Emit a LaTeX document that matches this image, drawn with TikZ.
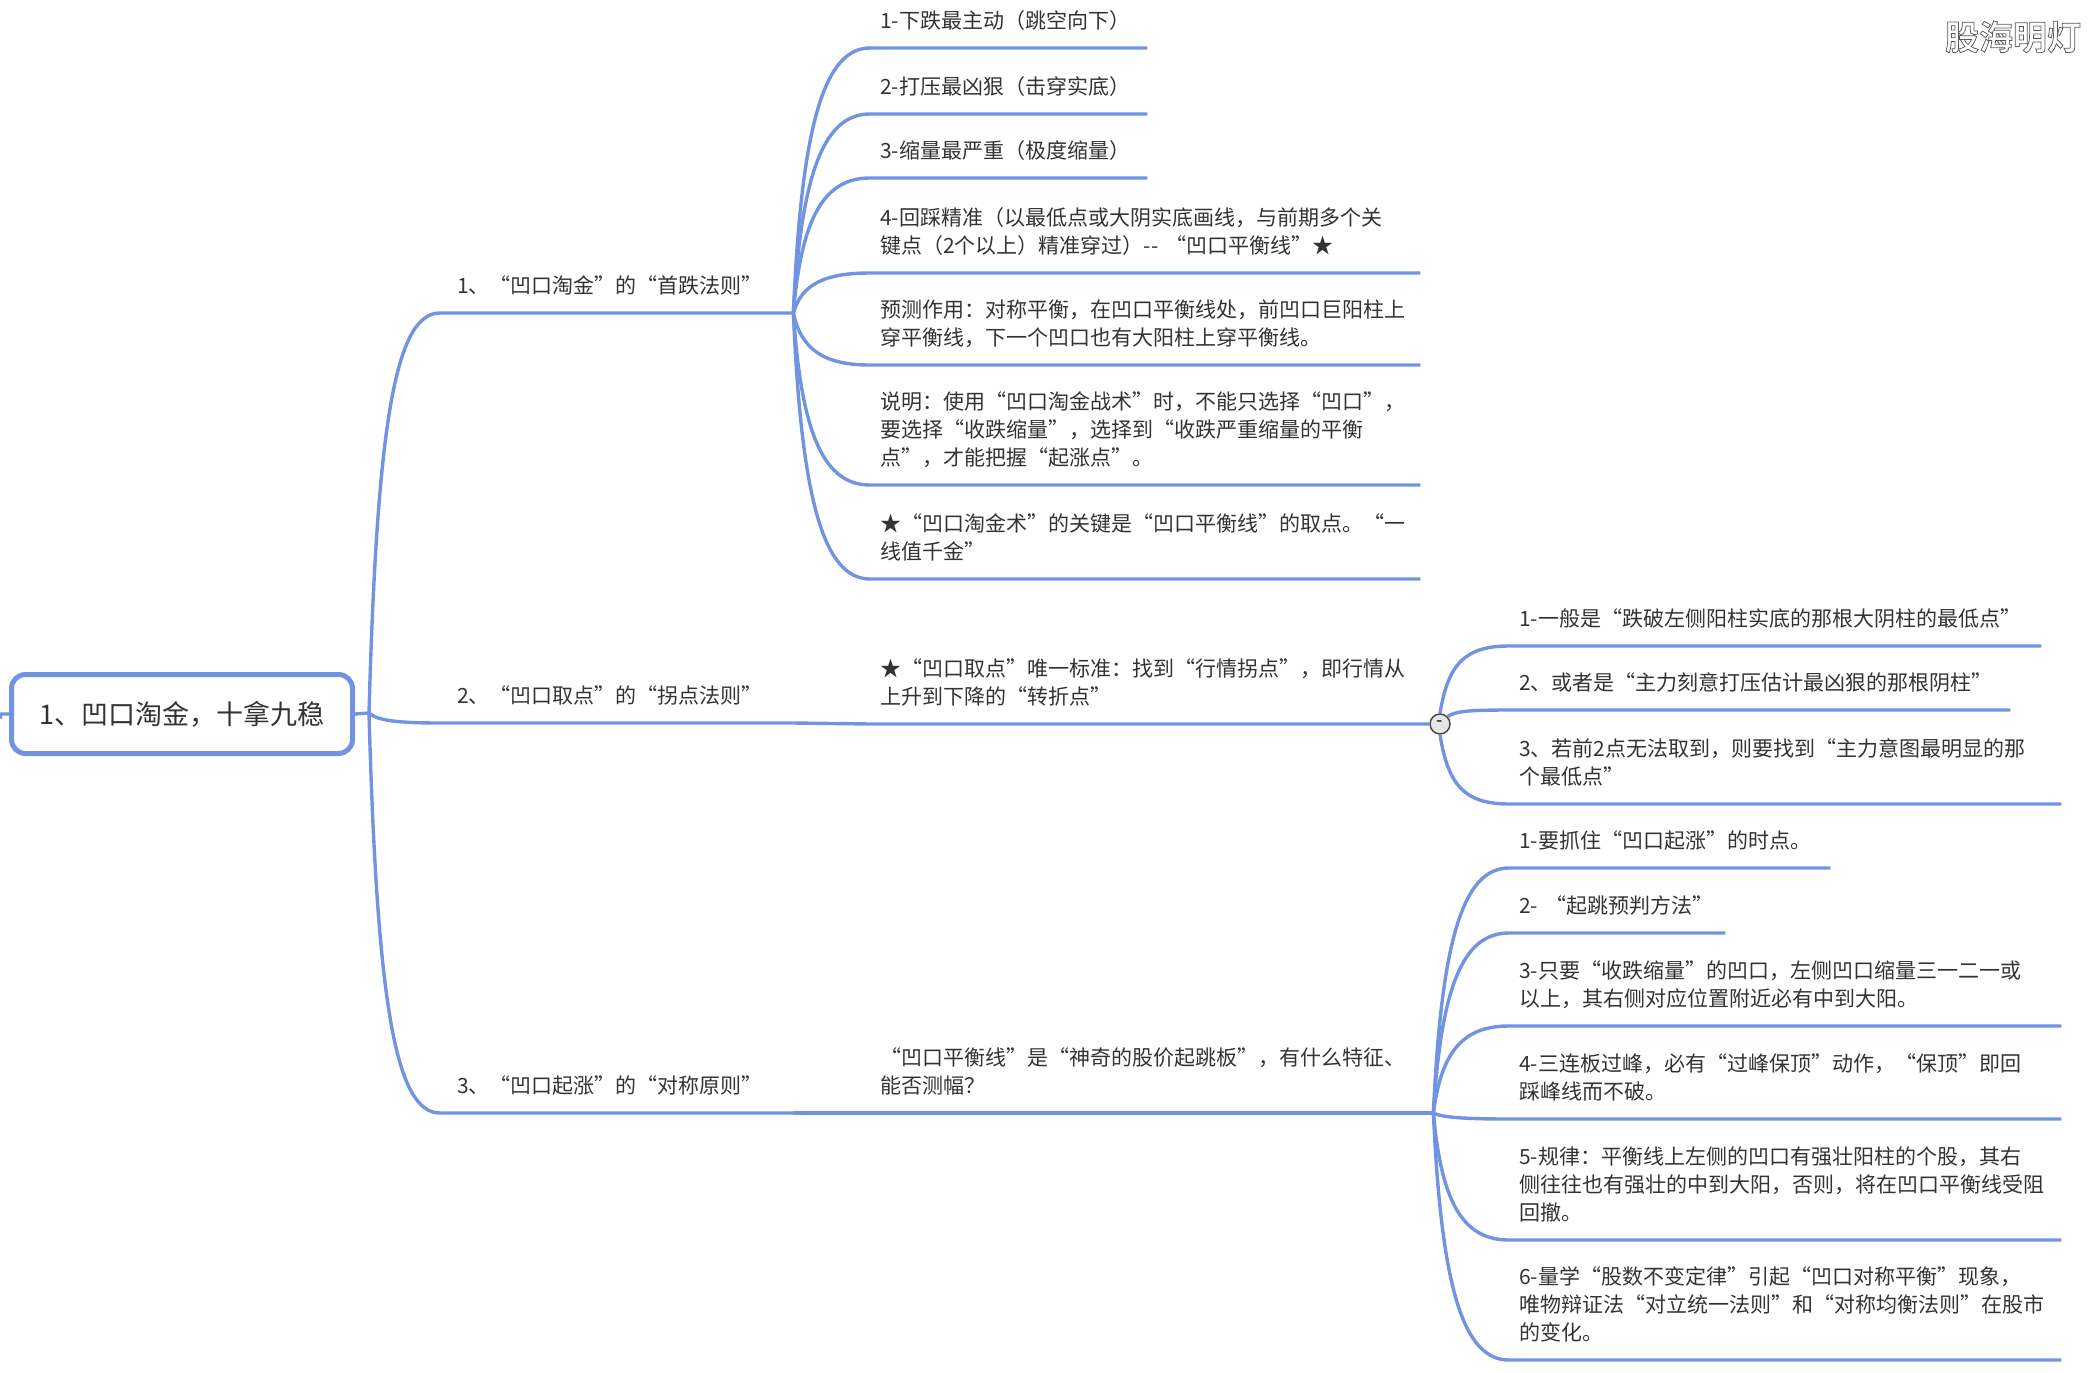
\documentclass[tikz,border=0pt]{standalone}
\usepackage{fontspec}
\usepackage{tikz}
\usetikzlibrary{calc}
\setmainfont{Noto Sans CJK SC}
\newfontfamily\markfont[FakeBold=2.2]{Noto Sans CJK SC Bold}
\newcommand\fwcomma{\char"FF0C\relax}
\newcommand\fwcolon{\char"FF1A\relax}
\newcommand\fwlp{\char"FF08\relax}
\newcommand\fwrp{\char"FF09\relax}
\newcommand\fwqm{\char"FF1F\relax}
\definecolor{limbblue}{RGB}{112,148,226}
\definecolor{inkgrey}{RGB}{51,51,51}
\begin{document}
\begin{tikzpicture}[x=1pt,y=-1pt,
  limb/.style={draw=limbblue,line width=3.4pt,line join=round,to path={let \p1=(\tikztostart),\p2=(\tikztotarget) in
    .. controls (\x1+8pt,{\y1+0.72*(\y2-\y1)}) and (\x2-45pt,\y2) .. (\tikztotarget)}},
  txt/.style={anchor=south west,inner ysep=10.8pt,align=left,text=inkgrey,font=\fontsize{21}{28}\selectfont,execute at end node=\strut},
  leaf/.style={txt,inner xsep=10pt,text width=#1},
  cat/.style={txt,inner xsep=17pt,text width=319pt},
  root/.style={draw=limbblue,line width=5pt,rounded corners=14pt,fill=white,minimum width=341pt,minimum height=79pt,inner sep=0pt,text=inkgrey,font=\fontsize{27}{32}\selectfont},
  fold/.style={circle,draw=black!70,line width=1.5pt,fill=black!10,minimum size=20pt,inner sep=0pt,font=\fontsize{18}{18}\selectfont}]
\useasboundingbox (0,0) rectangle (2097,1373);
\node[root] (main) at (182,714) {1、凹口淘金\fwcomma{}十拿九稳};
\coordinate (stub) at (0,718);
\coordinate (hub) at (369,713);
\node[cat] (c1) at (440,313) {1、“凹口淘金”的“首跌法则”};
\node[cat] (c2) at (440,723) {2、“凹口取点”的“拐点法则”};
\node[cat] (c3) at (440,1113) {3、“凹口起涨”的“对称原则”};
\node[leaf=257pt] (a1) at (870,48) {1-下跌最主动\fwlp{}跳空向下\fwrp{}};
\node[leaf=257pt] (a2) at (870,114) {2-打压最凶狠\fwlp{}击穿实底\fwrp{}};
\node[leaf=257pt] (a3) at (870,178) {3-缩量最严重\fwlp{}极度缩量\fwrp{}};
\node[leaf=530pt] (a4) at (870,273) {4-回踩精准\fwlp{}以最低点或大阴实底画线\fwcomma{}与前期多个关\\键点\fwlp{}2个以上\fwrp{}精准穿过\fwrp{}-{}- “凹口平衡线”★};
\node[leaf=530pt] (a5) at (870,365) {预测作用\fwcolon{}对称平衡\fwcomma{}在凹口平衡线处\fwcomma{}前凹口巨阳柱上\\穿平衡线\fwcomma{}下一个凹口也有大阳柱上穿平衡线。};
\node[leaf=530pt] (a6) at (870,485) {说明\fwcolon{}使用“凹口淘金战术”时\fwcomma{}不能只选择“凹口”\fwcomma{}\\要选择“收跌缩量”\fwcomma{}选择到“收跌严重缩量的平衡\\点”\fwcomma{}才能把握“起涨点”。};
\node[leaf=530pt] (a7) at (870,579) {★“凹口淘金术”的关键是“凹口平衡线”的取点。“一\\线值千金”};
\node[leaf=543pt] (m2) at (870,724) {★“凹口取点”唯一标准\fwcolon{}找到“行情拐点”\fwcomma{}即行情从\\上升到下降的“转折点”};
\node[leaf=543pt] (m3) at (870,1113) {“凹口平衡线”是“神奇的股价起跳板”\fwcomma{}有什么特征、\\能否测幅\fwqm{}};
\node[fold] (knob) at (1440,724) {-};
\node[leaf=512pt] (b1) at (1509,646) {1-一般是“跌破左侧阳柱实底的那根大阴柱的最低点”};
\node[leaf=481pt] (b2) at (1509,710) {2、或者是“主力刻意打压估计最凶狠的那根阴柱”};
\node[leaf=532pt] (b3) at (1509,804) {3、若前2点无法取到\fwcomma{}则要找到“主力意图最明显的那\\个最低点”};
\node[leaf=301pt] (d1) at (1509,868) {1-要抓住“凹口起涨”的时点。};
\node[leaf=196pt] (d2) at (1509,933) {2- “起跳预判方法”};
\node[leaf=532pt] (d3) at (1509,1026) {3-只要“收跌缩量”的凹口\fwcomma{}左侧凹口缩量三一二一或\\以上\fwcomma{}其右侧对应位置附近必有中到大阳。};
\node[leaf=532pt] (d4) at (1509,1119) {4-三连板过峰\fwcomma{}必有“过峰保顶”动作\fwcomma{}“保顶”即回\\踩峰线而不破。};
\node[leaf=532pt] (d5) at (1509,1240) {5-规律\fwcolon{}平衡线上左侧的凹口有强壮阳柱的个股\fwcomma{}其右\\侧往往也有强壮的中到大阳\fwcomma{}否则\fwcomma{}将在凹口平衡线受阻\\回撤。};
\node[leaf=532pt] (d6) at (1509,1360) {6-量学“股数不变定律”引起“凹口对称平衡”现象\fwcomma{}\\唯物辩证法“对立统一法则”和“对称均衡法则”在股市\\的变化。};
\node[anchor=center,inner sep=0pt,font=\fontsize{34}{34}\markfont] (mark) at (2013,37) {\color{white}\special{pdf:code 0.35 G}股海明灯};
% main branches
\draw[limb] (stub) to (main.west);
\draw[limb] (main.east) -- (hub);
\foreach \cat in {c1,c2,c3}
  \draw[limb] (hub) to (\cat.south west) -- (\cat.south east);
\draw[limb] (c2.south east) -- (m2.south west) -- (knob.west);
\draw[limb] (c3.south east) -- (m3.south west) -- (m3.south east);
% leaves
\foreach \leaf in {a1,a2,a3,a4,a5,a6,a7}
  \draw[limb] (c1.south east) to (\leaf.south west) -- (\leaf.south east);
\draw[limb] (knob.north) to (b1.south west) -- (b1.south east);
\draw[limb] (knob.north east) to (b2.south west) -- (b2.south east);
\draw[limb] (knob.south) to (b3.south west) -- (b3.south east);
\foreach \leaf in {d1,d2,d3,d4,d5,d6}
  \draw[limb] (m3.south east) to (\leaf.south west) -- (\leaf.south east);
\end{tikzpicture}
\end{document}
